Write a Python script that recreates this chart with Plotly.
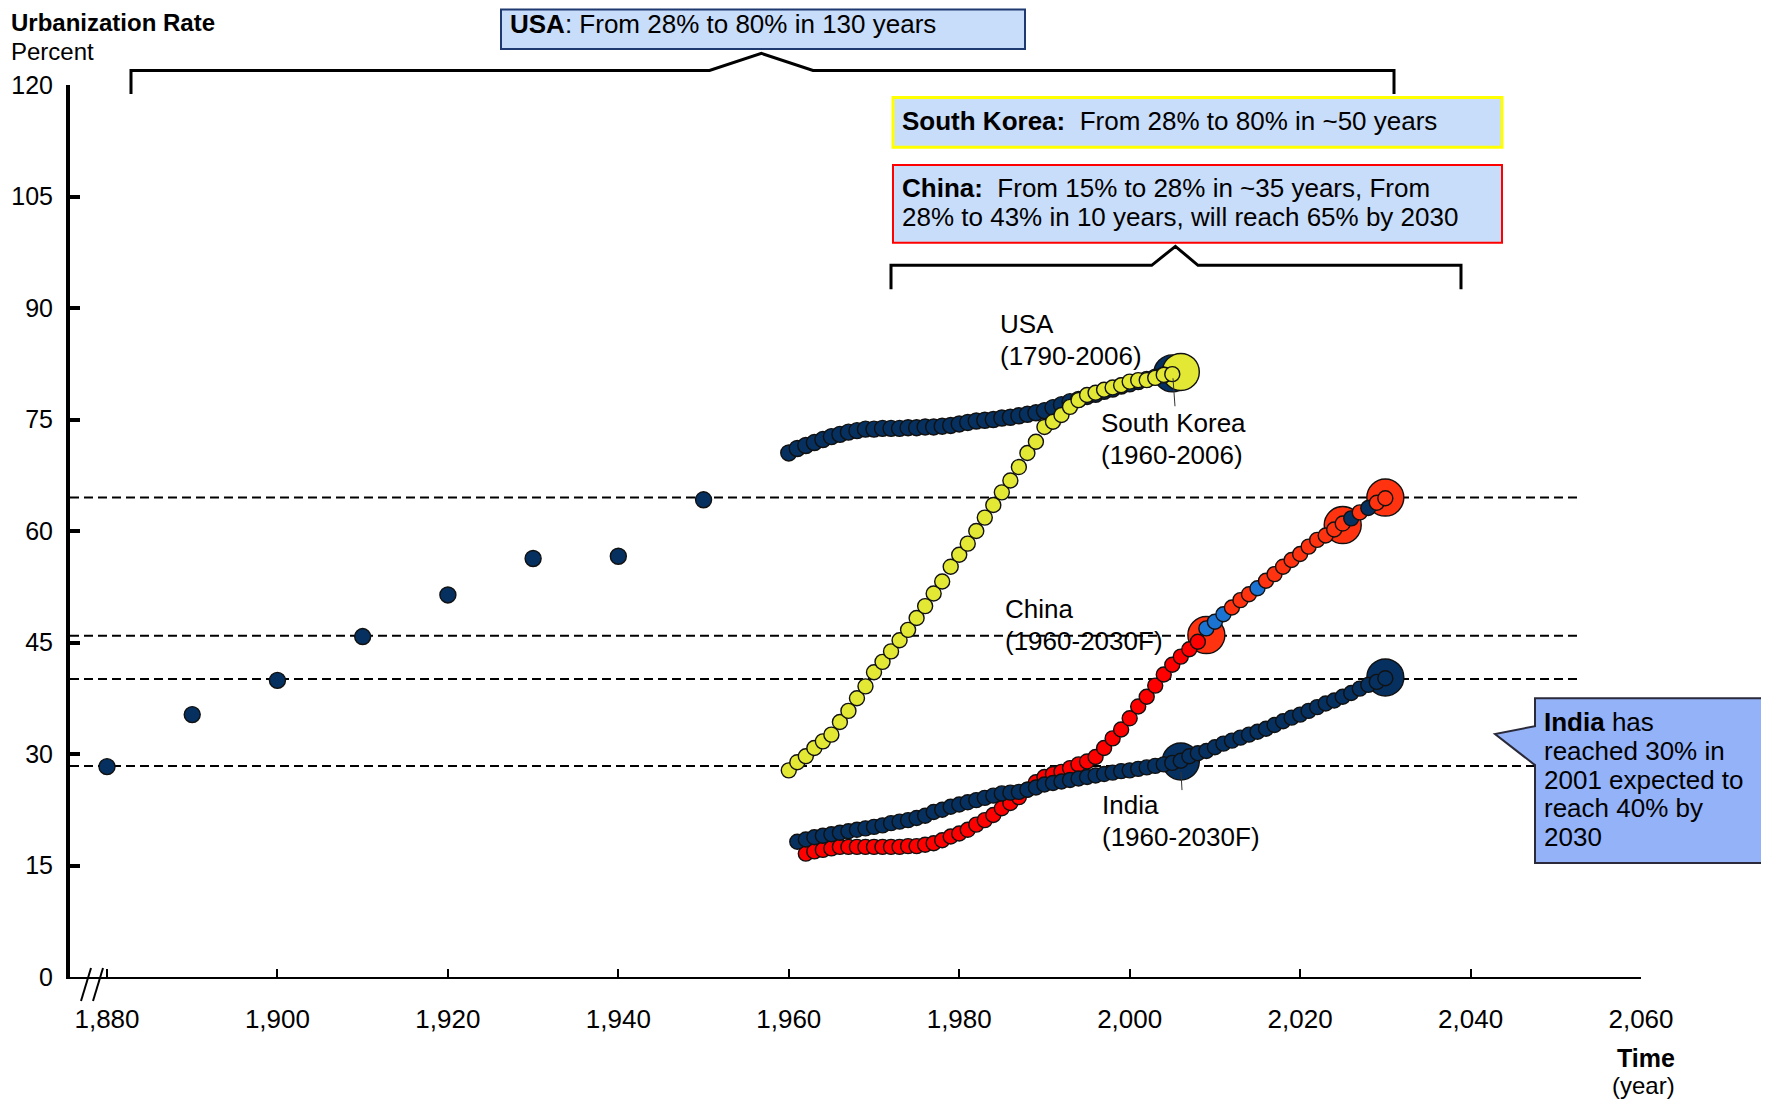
import plotly.graph_objects as go

# ---------------- data ----------------
usa_hist_years = [1880, 1890, 1900, 1910, 1920, 1930, 1940, 1950]
usa_hist_vals = [28.3, 35.3, 39.9, 45.8, 51.4, 56.3, 56.6, 64.2]

usa_years = list(range(1960, 2005))
usa_vals = [70.5, 71.1, 71.5, 71.9, 72.3, 72.7, 73.0, 73.3, 73.5, 73.7,
            73.7, 73.8, 73.8, 73.8, 73.9, 73.9, 74.0, 74.0, 74.1, 74.2,
            74.4, 74.6, 74.8, 74.9, 75.0, 75.2, 75.3, 75.5, 75.7, 75.9,
            76.2, 76.6, 77.0, 77.4, 77.7, 78.1, 78.4, 78.8, 79.1, 79.5,
            79.8, 80.1, 80.4, 80.7, 81.0]

korea_years = list(range(1960, 2006))
korea_vals = [27.8, 28.9, 29.7, 30.8, 31.7, 32.6, 34.3, 35.8, 37.5, 39.1,
              41.0, 42.4, 43.8, 45.3, 46.7, 48.3, 49.9, 51.6, 53.2, 55.2,
              56.8, 58.3, 60.0, 61.8, 63.5, 65.2, 66.8, 68.6, 70.5, 72.0,
              74.0, 74.7, 75.6, 76.7, 77.6, 78.3, 78.6, 79.0, 79.3, 79.6,
              80.1, 80.3, 80.3, 80.6, 81.0, 81.1]

china_years = list(range(1962, 2031))
china_vals = [16.6, 16.9, 17.1, 17.3, 17.5, 17.5, 17.5, 17.5, 17.5, 17.5,
              17.5, 17.5, 17.6, 17.6, 17.8, 18.0, 18.4, 18.9, 19.3, 19.8,
              20.5, 21.1, 21.8, 22.7, 23.4, 24.2, 25.2, 26.2, 26.9, 27.3,
              27.6, 28.1, 28.6, 29.0, 29.6, 30.8, 32.1, 33.3, 34.8, 36.4,
              37.7, 39.2, 40.7, 42.0, 43.1, 44.1, 45.1, 46.9, 47.8, 48.8,
              49.7, 50.7, 51.5, 52.3, 53.3, 54.2, 55.2, 56.1, 56.9, 57.9,
              58.8, 59.4, 60.2, 61.0, 61.7, 62.5, 63.1, 63.8, 64.4]

india_years = list(range(1961, 2031))
india_vals = [18.2, 18.5, 18.8, 19.0, 19.2, 19.4, 19.6, 19.8, 20.0, 20.2,
              20.4, 20.7, 20.9, 21.1, 21.4, 21.7, 22.2, 22.5, 22.9, 23.2,
              23.5, 23.8, 24.1, 24.4, 24.7, 24.8, 24.9, 25.2, 25.5, 25.9,
              26.1, 26.3, 26.5, 26.7, 26.9, 27.1, 27.3, 27.5, 27.7, 27.8,
              28.0, 28.2, 28.4, 28.6, 28.8, 29.1, 29.7, 30.1, 30.4, 30.9,
              31.4, 31.8, 32.2, 32.6, 33.0, 33.4, 33.9, 34.4, 34.9, 35.3,
              35.8, 36.3, 36.8, 37.2, 37.7, 38.2, 38.8, 39.3, 39.7, 40.2]

usa_big_years = [2005]
usa_big_vals = [81.2]
korea_big_years = [2006]
korea_big_vals = [81.4]
china_big_years = [2009, 2025, 2030]
china_big_vals = [46.0, 60.8, 64.5]
india_big_years = [2006, 2030]
india_big_vals = [29.0, 40.3]

reference_levels = [64.5, 45.9, 40.1, 28.4]

y_ticks = [0, 15, 30, 45, 60, 75, 90, 105, 120]
x_ticks = [1880, 1900, 1920, 1940, 1960, 1980, 2000, 2020, 2040, 2060]

# ---------------- styling ----------------
NAVY = "#06305F"
YELLOW = "#E3E834"
RED = "#FF0000"
ORANGE = "#FF3310"
BLUE = "#1C74D2"
FONT = "Liberation Sans, Arial, sans-serif"
FS = 26

china_blue_years = {2009, 2010, 2011, 2015}
china_navy_years = {2026, 2028}
china_colors = []
for yr in china_years:
    if yr in china_blue_years:
        china_colors.append(BLUE)
    elif yr in china_navy_years:
        china_colors.append(NAVY)
    elif yr <= 2008:
        china_colors.append(RED)
    else:
        china_colors.append(ORANGE)

# page layout (page pixels); the page body adds an 8px offset
OFF = 8
PAGE_W, PAGE_H = 1769, 1102
FIG_W, FIG_H = PAGE_W - OFF, PAGE_H - OFF
L, T, R, B = 70, 84.6, 1641, 977
W, H = R - L, B - T
XMIN = 1880 - (107 - L) / ((1641 - 107) / 180.0)


def px(x, y):
    return (x - L) / W, (B - y) / H


def path(points, close=False):
    s = ""
    for i, (x, y) in enumerate(points):
        u, v = px(x, y)
        s += ("M" if i == 0 else "L") + f"{u:.5f},{v:.5f} "
    if close:
        s += "Z"
    return s


fig = go.Figure()

outline = dict(color="#111111", width=1.4)
SMALL = 15
BIG = 37

# big markers (drawn first)
fig.add_trace(go.Scatter(x=usa_big_years, y=usa_big_vals, mode="markers",
                         marker=dict(size=BIG, color=NAVY, line=outline)))
fig.add_trace(go.Scatter(x=korea_big_years, y=korea_big_vals, mode="markers",
                         marker=dict(size=BIG, color=YELLOW, line=outline)))
fig.add_trace(go.Scatter(x=china_big_years, y=china_big_vals, mode="markers",
                         marker=dict(size=BIG, color=ORANGE, line=outline)))
fig.add_trace(go.Scatter(x=india_big_years, y=india_big_vals, mode="markers",
                         marker=dict(size=BIG, color=NAVY, line=outline)))

# small markers
fig.add_trace(go.Scatter(x=usa_hist_years + usa_years, y=usa_hist_vals + usa_vals,
                         mode="markers",
                         marker=dict(size=SMALL + 1, color=NAVY, line=outline)))
fig.add_trace(go.Scatter(x=korea_years, y=korea_vals, mode="markers",
                         marker=dict(size=SMALL, color=YELLOW, line=outline)))
fig.add_trace(go.Scatter(x=china_years, y=china_vals, mode="markers",
                         marker=dict(size=SMALL, color=china_colors, line=outline)))
fig.add_trace(go.Scatter(x=india_years, y=india_vals, mode="markers",
                         marker=dict(size=SMALL, color=NAVY, line=outline)))

shapes = []
# dashed reference lines
for lv in reference_levels:
    shapes.append(dict(type="line", xref="x", yref="y", x0=XMIN, x1=2052.5,
                       y0=lv, y1=lv, layer="below",
                       line=dict(color="black", width=2, dash="9px,5px")))

BOXFILL = "#C8DDF9"
# USA box
x0, y0 = px(501, 48.5); x1, y1 = px(1025, 9)
shapes.append(dict(type="rect", xref="paper", yref="paper", x0=x0, y0=y0, x1=x1, y1=y1,
                   fillcolor=BOXFILL, line=dict(color="#1F3A70", width=2)))
# Korea box
x0, y0 = px(893, 147); x1, y1 = px(1502, 97)
shapes.append(dict(type="rect", xref="paper", yref="paper", x0=x0, y0=y0, x1=x1, y1=y1,
                   fillcolor=BOXFILL, line=dict(color="#FFFF00", width=3)))
# China box
x0, y0 = px(893, 242.5); x1, y1 = px(1502, 164.7)
shapes.append(dict(type="rect", xref="paper", yref="paper", x0=x0, y0=y0, x1=x1, y1=y1,
                   fillcolor=BOXFILL, line=dict(color="#FF0000", width=2)))
# brackets
shapes.append(dict(type="path", xref="paper", yref="paper",
                   path=path([(131, 93.6), (131, 70), (709.5, 70), (761.4, 53),
                              (813, 70), (1394, 70), (1394, 93.6)]),
                   line=dict(color="black", width=3)))
shapes.append(dict(type="path", xref="paper", yref="paper",
                   path=path([(891, 289), (891, 265), (1151.7, 265), (1175.4, 246),
                              (1198, 265), (1461, 265), (1461, 289)]),
                   line=dict(color="black", width=3)))
# India callout
shapes.append(dict(type="path", xref="paper", yref="paper",
                   path=path([(1535, 698), (1767, 698), (1767, 863), (1535, 863),
                              (1535, 765), (1495, 734), (1535, 726)], close=True),
                   fillcolor="#93B2F8", line=dict(color="#2A2A3A", width=2)))
# leader lines
shapes.append(dict(type="path", xref="paper", yref="paper",
                   path=path([(1173, 378), (1175, 406)]),
                   line=dict(color="#333333", width=1)))
shapes.append(dict(type="path", xref="paper", yref="paper",
                   path=path([(1181, 772), (1182, 790)]),
                   line=dict(color="#333333", width=1)))
# axis break slashes
shapes.append(dict(type="path", xref="paper", yref="paper",
                   path=path([(81, 1001), (91, 968)]), line=dict(color="black", width=2)))
shapes.append(dict(type="path", xref="paper", yref="paper",
                   path=path([(93, 1001), (103, 968)]), line=dict(color="black", width=2)))

annotations = []


def txt(x, y, text, size=FS, xanchor="left"):
    u, v = px(x, y)
    annotations.append(dict(xref="paper", yref="paper", x=u, y=v, text=text,
                            showarrow=False, xanchor=xanchor, yanchor="middle",
                            align=xanchor, borderpad=0,
                            font=dict(family=FONT, size=size, color="black")))


txt(10, 22, "<b>Urbanization Rate</b>", size=24)
txt(10, 51, "Percent", size=24)
txt(509, 24, "<b>USA</b>: From 28% to 80% in 130 years")
txt(901, 121, "<b>South Korea:</b>\u00a0 From 28% to 80% in ~50 years")
txt(901, 188, "<b>China:</b>\u00a0 From 15% to 28% in ~35 years, From")
txt(901, 217, "28% to 43% in 10 years, will reach 65% by 2030")
txt(999, 324, "USA")
txt(999, 356, "(1790-2006)")
txt(1100, 423, "South Korea")
txt(1100, 455, "(1960-2006)")
txt(1004, 609, "China")
txt(1004, 641, "(1960-2030F)")
txt(1101, 805, "India")
txt(1101, 837, "(1960-2030F)")
txt(1543, 722, "<b>India</b> has")
txt(1543, 751, "reached 30% in")
txt(1543, 780, "2001 expected to")
txt(1543, 808, "reach 40% by")
txt(1543, 837, "2030")
txt(1676, 1058, "<b>Time</b>", size=25, xanchor="right")
txt(1676, 1086, "(year)", size=24, xanchor="right")

fig.update_layout(
    template="none",
    width=FIG_W, height=FIG_H,
    autosize=False,
    margin=dict(l=L - OFF, r=FIG_W - (R - OFF), t=T - OFF, b=FIG_H - (B - OFF), pad=0),
    paper_bgcolor="white", plot_bgcolor="white",
    showlegend=False,
    font=dict(family=FONT, size=FS, color="black"),
    shapes=shapes, annotations=annotations,
    xaxis=dict(range=[XMIN, 2060], tickvals=x_ticks, tickformat=",d",
               showline=True, linecolor="black", linewidth=2, automargin=False,
               ticks="inside", ticklen=8, tickwidth=2, tickcolor="black",
               showgrid=False, zeroline=False, ticklabelstandoff=18,
               tickfont=dict(family=FONT, size=FS, color="black")),
    yaxis=dict(range=[0, 120], tickvals=y_ticks, automargin=False,
               showline=True, linecolor="black", linewidth=4,
               ticks="inside", ticklen=10, tickwidth=4, tickcolor="black",
               showgrid=False, zeroline=False, ticklabelstandoff=8,
               tickfont=dict(family=FONT, size=25, color="black")),
)

fig.write_html("out.html")
